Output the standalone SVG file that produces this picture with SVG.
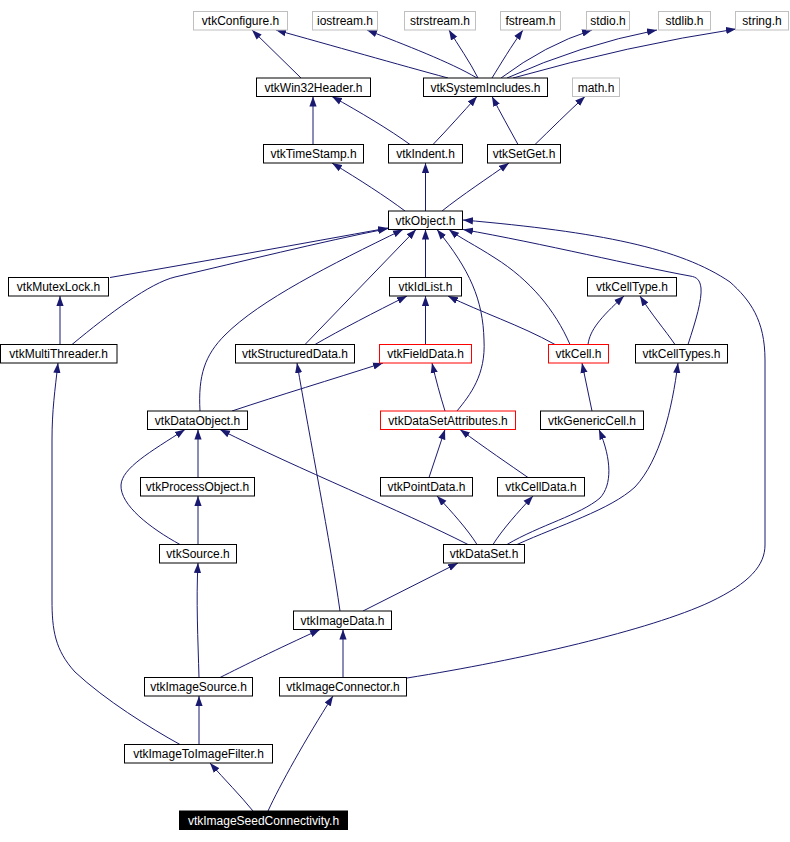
<svg xmlns="http://www.w3.org/2000/svg" width="790" height="842" viewBox="0 0 790 842">
<defs>
<style>
.n rect{fill:#fff;stroke:#000;stroke-width:1}
.g rect{stroke:#bfbfbf}
.r rect{stroke:#ff0000}
.n text{font-family:"Liberation Sans",Arial,sans-serif;font-size:12px;text-anchor:middle;fill:#000}
.b rect{fill:#000}
.b text{fill:#fff}
#edges path{fill:none;stroke:#191970;stroke-width:1;marker-end:url(#arr)}
</style>
<marker id="arr" markerWidth="10" markerHeight="8" refX="10" refY="4" orient="auto" markerUnits="userSpaceOnUse" viewBox="0 0 10 8">
<path d="M0,0.4 L10,4 L0,7.6 z" fill="#191970"/>
</marker>
</defs>
<rect width="790" height="842" fill="#fff"/>
<g id="edges">
<path d="M301,78 L252,30"/>
<path d="M448,78 C 400,65 330,45 276,30"/>
<path d="M477,78 C 450,62 405,45 367,30"/>
<path d="M478,78 C 470,62 458,45 449,30"/>
<path d="M492,78 C 500,65 512,45 523,30"/>
<path d="M501,78 Q 545,45 592,30"/>
<path d="M507,78 Q 580,45 657,30"/>
<path d="M513,78 Q 630,45 736,29"/>
<path d="M313,144.5 L313,96.5"/>
<path d="M410,144.5 C 390,130 360,112 332,96.5"/>
<path d="M433,144.5 C 447,130 463,112 477,96.5"/>
<path d="M518,144.5 C 510,130 500,112 492,96.5"/>
<path d="M535,144.5 C 550,130 568,112 585,96.5"/>
<path d="M405,211 C 385,196 360,180 332,163"/>
<path d="M425.5,211 L425.5,163"/>
<path d="M442,211 C 462,195 488,178 509,163"/>
<path d="M110,277.5 C 200,262 300,244 388,228"/>
<path d="M72,344.5 C 110,313 150,283 175,277 C 240,262 320,242 388,228.5"/>
<path d="M60,344.5 L60,296"/>
<path d="M425.5,277.5 L425.5,229.5"/>
<path d="M305,344.5 L416,229.5"/>
<path d="M315,344.5 C 340,330 375,312 407,296"/>
<path d="M425.5,344.5 L425.5,296"/>
<path d="M570,344.5 C 555,310 530,280 495,258 C 475,245 460,238 449,229.5"/>
<path d="M555,344.5 C 520,325 480,312 448,296"/>
<path d="M588,344.5 C 590,330 600,318 624,296"/>
<path d="M688,344.5 C 696,320 702,300 701,288 C 700,280 697,277 690,276 C 640,267 540,243 463,229.5"/>
<path d="M675,344.5 C 665,330 652,315 640,296"/>
<path d="M200,411 C 198,375 205,355 225,335 C 260,300 330,265 403,229.5"/>
<path d="M232,411 C 280,395 330,380 383,363"/>
<path d="M457,411 C 470,395 486,375 484,340 C 483,300 470,270 437,229.5"/>
<path d="M445,411 C 440,395 436,380 432,363"/>
<path d="M592,411 L582,363"/>
<path d="M198,477.5 L198,429.5"/>
<path d="M198,544.5 L198,496"/>
<path d="M180,544.5 C 150,528 120,505 121,485 C 122,468 150,452 185,429.5"/>
<path d="M429,477.5 L445,429.5"/>
<path d="M528,477.5 C 510,465 485,448 460,429.5"/>
<path d="M468,544.5 C 400,510 300,470 220,429.5"/>
<path d="M477,544.5 C 468,530 452,512 437,496"/>
<path d="M493,544.5 C 502,530 518,512 533,496"/>
<path d="M507,544.5 C 540,525 580,515 600,498 C 612,485 612,460 599,429.5"/>
<path d="M517,544.5 C 560,525 610,510 635,487 C 660,460 672,410 678,363"/>
<path d="M363,611 L458,563"/>
<path d="M340,611 C 330,540 310,440 297,363"/>
<path d="M199,677.5 C 198,640 196,600 198,563"/>
<path d="M220,677.5 C 245,665 275,650 320,629.5"/>
<path d="M343,677.5 L343,629.5"/>
<path d="M407,678 C 520,660 650,630 710,602 C 750,583 765,565 765,545 L 765,360 C 765,320 750,300 730,282 C 680,248 600,232 463,220"/>
<path d="M199,744.5 L199,696"/>
<path d="M180,744.5 C 150,728 105,700 75,672 C 55,650 52,630 52,600 L 52,440 C 52,410 55,390 58,363"/>
<path d="M253,811 C 240,795 225,780 210,763"/>
<path d="M268,811 C 280,785 305,740 333,696"/>
</g>
<g id="n_configure" class="n g"><rect x="193.5" y="11.5" width="94" height="18.5"/><text x="240.5" y="25">vtkConfigure.h</text></g>
<g id="n_iostream" class="n g"><rect x="312.5" y="11.5" width="65" height="18.5"/><text x="345" y="25">iostream.h</text></g>
<g id="n_strstream" class="n g"><rect x="404.5" y="11.5" width="71" height="18.5"/><text x="440" y="25">strstream.h</text></g>
<g id="n_fstream" class="n g"><rect x="500.5" y="11.5" width="60" height="18.5"/><text x="530.5" y="25">fstream.h</text></g>
<g id="n_stdio" class="n g"><rect x="586.5" y="11.5" width="43" height="18.5"/><text x="608" y="25">stdio.h</text></g>
<g id="n_stdlib" class="n g"><rect x="658.5" y="11.5" width="52" height="18.5"/><text x="684.5" y="25">stdlib.h</text></g>
<g id="n_string" class="n g"><rect x="735.5" y="11.5" width="53" height="18.5"/><text x="762" y="25">string.h</text></g>
<g id="n_win32" class="n"><rect x="256.5" y="78" width="114" height="18.5"/><text x="313.5" y="91.5">vtkWin32Header.h</text></g>
<g id="n_sysinc" class="n"><rect x="423.5" y="78" width="124" height="18.5"/><text x="485.5" y="91.5">vtkSystemIncludes.h</text></g>
<g id="n_math" class="n g"><rect x="572.5" y="78" width="47" height="18.5"/><text x="596" y="91.5">math.h</text></g>
<g id="n_timestamp" class="n"><rect x="263.5" y="144.5" width="100" height="18.5"/><text x="313.5" y="158">vtkTimeStamp.h</text></g>
<g id="n_indent" class="n"><rect x="388.5" y="144.5" width="74" height="18.5"/><text x="425.5" y="158">vtkIndent.h</text></g>
<g id="n_setget" class="n"><rect x="487.5" y="144.5" width="73" height="18.5"/><text x="524" y="158">vtkSetGet.h</text></g>
<g id="n_object" class="n"><rect x="388.5" y="211" width="74" height="18.5"/><text x="425.5" y="224.5">vtkObject.h</text></g>
<g id="n_mutex" class="n"><rect x="8.5" y="277.5" width="100" height="18.5"/><text x="58.5" y="291">vtkMutexLock.h</text></g>
<g id="n_idlist" class="n"><rect x="389.5" y="277.5" width="72" height="18.5"/><text x="425.5" y="291">vtkIdList.h</text></g>
<g id="n_celltype" class="n"><rect x="587.5" y="277.5" width="89" height="18.5"/><text x="632" y="291">vtkCellType.h</text></g>
<g id="n_multithreader" class="n"><rect x="0.5" y="344.5" width="116.5" height="18.5"/><text x="58.7" y="358">vtkMultiThreader.h</text></g>
<g id="n_structured" class="n"><rect x="235.5" y="344.5" width="119" height="18.5"/><text x="295" y="358">vtkStructuredData.h</text></g>
<g id="n_fielddata" class="n r"><rect x="379.5" y="344.5" width="92" height="18.5"/><text x="425.5" y="358">vtkFieldData.h</text></g>
<g id="n_cell" class="n r"><rect x="548.5" y="344.5" width="60" height="18.5"/><text x="578.5" y="358">vtkCell.h</text></g>
<g id="n_celltypes" class="n"><rect x="635.5" y="344.5" width="92" height="18.5"/><text x="681.5" y="358">vtkCellTypes.h</text></g>
<g id="n_dataobject" class="n"><rect x="147.5" y="411" width="100" height="18.5"/><text x="197.5" y="424.5">vtkDataObject.h</text></g>
<g id="n_dsattr" class="n r"><rect x="380.5" y="411" width="135" height="18.5"/><text x="448" y="424.5">vtkDataSetAttributes.h</text></g>
<g id="n_genericcell" class="n"><rect x="540.5" y="411" width="103" height="18.5"/><text x="592" y="424.5">vtkGenericCell.h</text></g>
<g id="n_processobject" class="n"><rect x="140.5" y="477.5" width="114" height="18.5"/><text x="197.5" y="491">vtkProcessObject.h</text></g>
<g id="n_pointdata" class="n"><rect x="380.5" y="477.5" width="92" height="18.5"/><text x="426.5" y="491">vtkPointData.h</text></g>
<g id="n_celldata" class="n"><rect x="497.5" y="477.5" width="87" height="18.5"/><text x="541" y="491">vtkCellData.h</text></g>
<g id="n_source" class="n"><rect x="159.5" y="544.5" width="77" height="18.5"/><text x="198" y="558">vtkSource.h</text></g>
<g id="n_dataset" class="n"><rect x="443.5" y="544.5" width="81" height="18.5"/><text x="484" y="558">vtkDataSet.h</text></g>
<g id="n_imagedata" class="n"><rect x="293.5" y="611" width="98" height="18.5"/><text x="342.5" y="624.5">vtkImageData.h</text></g>
<g id="n_imagesource" class="n"><rect x="144.5" y="677.5" width="108" height="18.5"/><text x="198.5" y="691">vtkImageSource.h</text></g>
<g id="n_imageconnector" class="n"><rect x="279.5" y="677.5" width="127" height="18.5"/><text x="343" y="691">vtkImageConnector.h</text></g>
<g id="n_imagetoimage" class="n"><rect x="124.5" y="744.5" width="148" height="18.5"/><text x="198.5" y="758">vtkImageToImageFilter.h</text></g>
<g id="n_seed" class="n b"><rect x="179.5" y="811" width="168" height="18.5"/><text x="263.5" y="824.5">vtkImageSeedConnectivity.h</text></g>
</svg>
